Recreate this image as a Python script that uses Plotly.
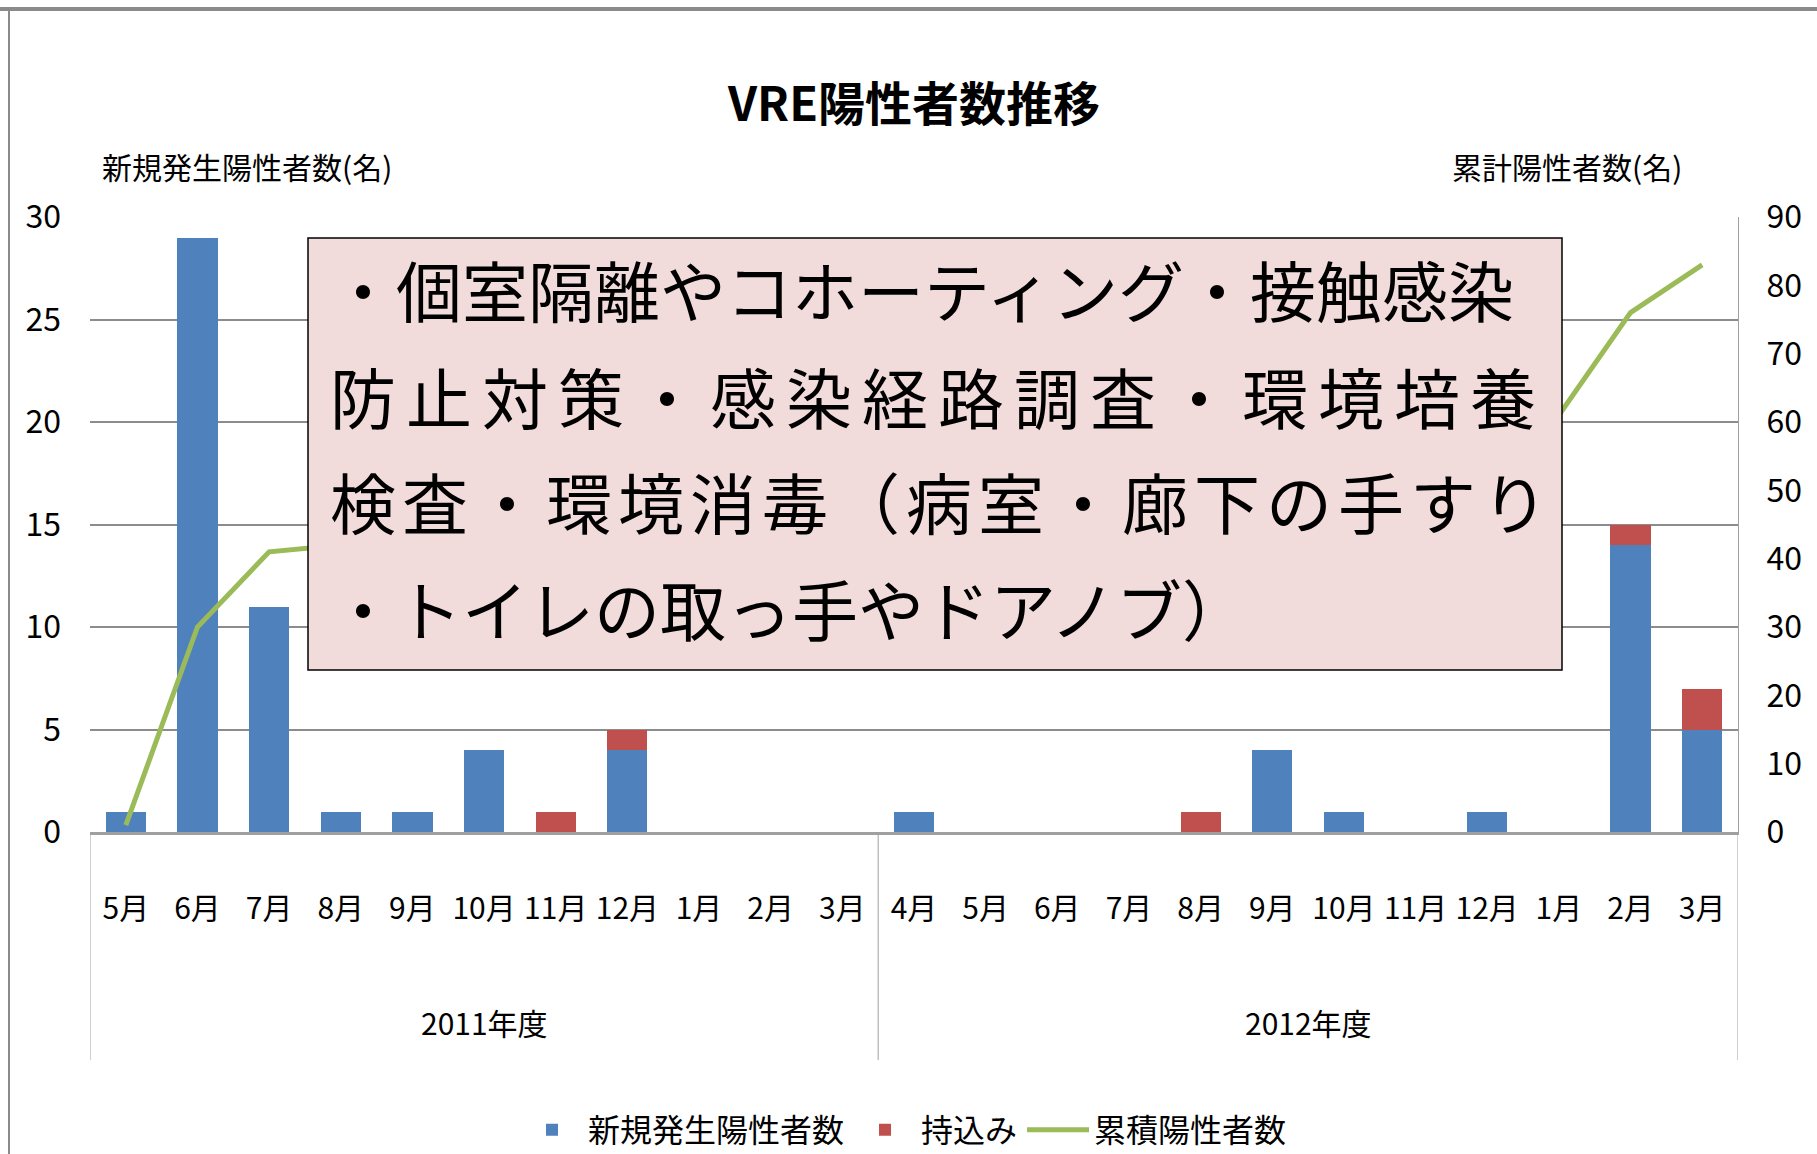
import plotly.graph_objects as go

# ---- data ----
years = ["2011年度"] * 11 + ["2012年度"] * 12
months = ["5月", "6月", "7月", "8月", "9月", "10月", "11月", "12月", "1月", "2月", "3月",
          "4月", "5月", "6月", "7月", "8月", "9月", "10月", "11月", "12月", "1月", "2月", "3月"]
new_cases = [1, 29, 11, 1, 1, 4, 0, 4, 0, 0, 0,
             1, 0, 0, 0, 0, 4, 1, 0, 1, 0, 14, 5]
brought_in = [0, 0, 0, 0, 0, 0, 1, 1, 0, 0, 0,
              0, 0, 0, 0, 1, 0, 0, 0, 0, 0, 1, 2]
cumulative = [1, 30, 41, 42, 43, 47, 48, 53, 53, 53, 53,
              54, 54, 54, 54, 55, 59, 60, 60, 61, 61, 76, 83]
left_ticks = [0, 5, 10, 15, 20, 25, 30]
right_ticks = [0, 10, 20, 30, 40, 50, 60, 70, 80, 90]
note_lines = ["・個室隔離やコホーティング・接触感染",
              "防止対策・感染経路調査・環境培養",
              "検査・環境消毒（病室・廊下の手すり",
              "・トイレの取っ手やドアノブ）"]

W, H = 1817, 1154
ML, MR, MT, MB = 90, 79, 217, 322
PW, PH = W - ML - MR, H - MT - MB


def px(x):
    return (x - ML) / PW


def py(y):
    return (H - MB - y) / PH


FONT = "Noto Sans CJK JP"
# unique category keys (year + month), displayed with the month text only
cats = [f"{y} {m}" for y, m in zip(years, months)]

fig = go.Figure()
fig.add_trace(go.Bar(x=cats, y=new_cases, name="新規発生陽性者数",
                     marker=dict(color="#4F81BD", line=dict(width=0))))
fig.add_trace(go.Bar(x=cats, y=brought_in, name="持込み",
                     marker=dict(color="#C0504D", line=dict(width=0))))
fig.add_trace(go.Scatter(x=cats, y=cumulative, name="累積陽性者数", yaxis="y2",
                         mode="lines", line=dict(color="#9BBB59", width=5)))

fig.update_layout(
    width=W, height=H,
    margin=dict(l=ML, r=MR, t=MT, b=MB, autoexpand=False),
    barmode="stack", bargap=0.44,
    plot_bgcolor="white", paper_bgcolor="white",
    font=dict(family=FONT, color="black", size=30),
    showlegend=True,
    legend=dict(orientation="h", x=px(904), xanchor="center", y=py(1130), yanchor="middle",
                font=dict(size=32, family=FONT), itemwidth=62, traceorder="normal"),
    xaxis=dict(type="category", categoryorder="array", categoryarray=cats,
               tickvals=cats, ticktext=months, range=[-0.5, len(cats) - 0.5],
               showgrid=False, showline=True, linecolor="#A0A0A0", linewidth=3,
               ticks="", ticklabelstandoff=48,
               tickfont=dict(size=30, family=FONT, color="black")),
    yaxis=dict(range=[0, 30], tickvals=left_ticks, showgrid=True,
               gridcolor="#8C8C8C", gridwidth=1.5, zeroline=False, showline=False,
               ticks="", ticklabelstandoff=28,
               tickfont=dict(size=32, family=FONT, color="black")),
    yaxis2=dict(range=[0, 90], tickvals=right_ticks, overlaying="y", side="right",
                showgrid=False, zeroline=False, showline=True, linecolor="#A0A0A0",
                linewidth=1, ticks="", ticklabelstandoff=21,
                tickfont=dict(size=32, family=FONT, color="black")),
)

# group dividers below the axis, at the group boundaries
first_2012 = years.index("2012年度")
divider_pos = [-0.5, first_2012 - 0.5, len(cats) - 0.5]
shapes = [dict(type="line", xref="x", yref="paper", x0=d, x1=d, y0=0, y1=py(1060),
               line=dict(color="#A0A0A0", width=1)) for d in divider_pos]
shapes += [
    dict(type="rect", xref="paper", yref="paper", x0=px(308), x1=px(1562),
         y0=py(670), y1=py(238), fillcolor="#F2DCDB",
         line=dict(color="black", width=1.5), layer="above"),
    dict(type="line", xref="paper", yref="paper", x0=px(0), x1=px(W + 10),
         y0=py(9), y1=py(9), line=dict(color="#8A8A8A", width=4)),
    dict(type="line", xref="paper", yref="paper", x0=px(9), x1=px(9),
         y0=py(9), y1=py(H + 10), line=dict(color="#8A8A8A", width=2)),
]
fig.update_layout(shapes=shapes)

annotations = [
    dict(text="<b>VRE陽性者数推移</b>", xref="paper", yref="paper", x=px(913), y=py(101),
         xanchor="center", yanchor="middle", showarrow=False,
         font=dict(size=47, family=FONT, color="black")),
    dict(text="新規発生陽性者数(名)", xref="paper", yref="paper", x=px(100), y=py(166),
         xanchor="left", yanchor="middle", showarrow=False,
         font=dict(size=30, family=FONT, color="black")),
    dict(text="累計陽性者数(名)", xref="paper", yref="paper", x=px(1684), y=py(166),
         xanchor="right", yanchor="middle", showarrow=False,
         font=dict(size=30, family=FONT, color="black")),
]
# year group labels centred under their months
for yr in ["2011年度", "2012年度"]:
    idx = [i for i, v in enumerate(years) if v == yr]
    annotations.append(dict(text=yr, xref="x", yref="paper",
                            x=(idx[0] + idx[-1]) / 2, y=py(1022),
                            xanchor="center", yanchor="middle", showarrow=False,
                            font=dict(size=30, family=FONT, color="black")))

line_y = [288, 395, 500, 607]
line_spacing = [0, 10, 6, 0]
for t, yy, ls in zip(note_lines, line_y, line_spacing):
    annotations.append(dict(text=f'<span style="letter-spacing:{ls}px">{t}</span>',
                            xref="paper", yref="paper", x=px(328), y=py(yy),
                            xanchor="left", yanchor="middle", showarrow=False,
                            font=dict(size=66, family=FONT, color="black")))
fig.update_layout(annotations=annotations)

fig.write_html("out.html", config={"displayModeBar": False},
               post_script="document.body.style.margin='0px';")
